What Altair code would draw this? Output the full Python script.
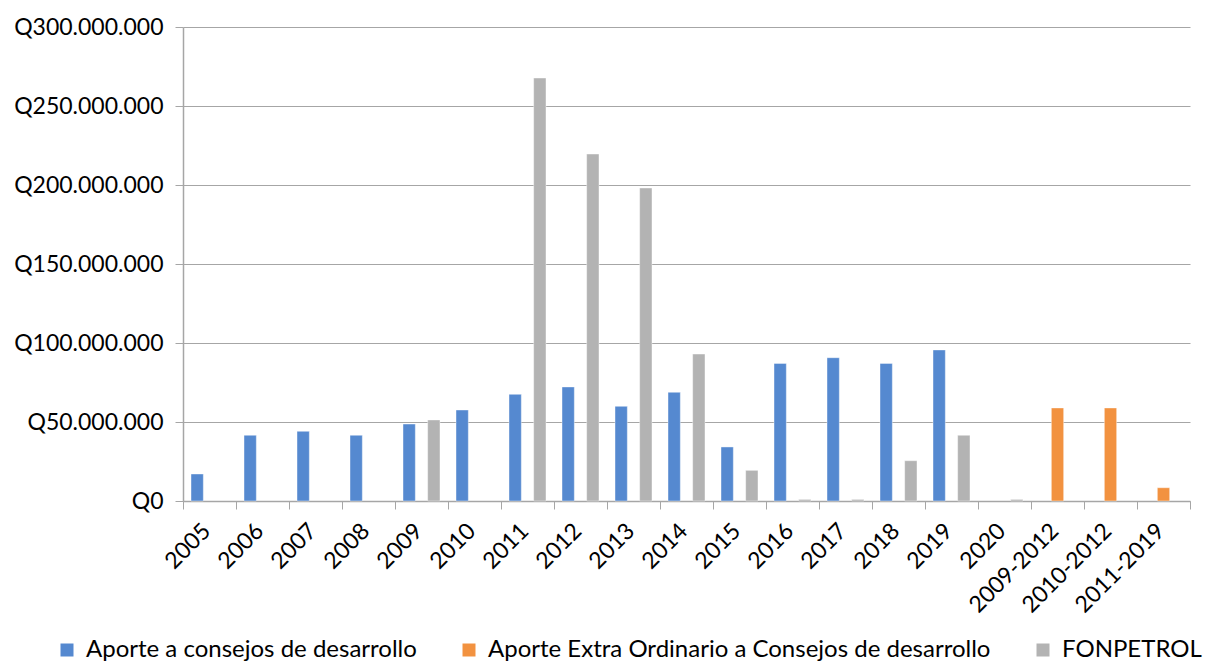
import altair as alt
import pandas as pd

categories = ["2005", "2006", "2007", "2008", "2009", "2010", "2011", "2012", "2013",
              "2014", "2015", "2016", "2017", "2018", "2019", "2020",
              "2009-2012", "2010-2012", "2011-2019"]
series_names = ["Aporte a consejos de desarrollo",
                "Aporte Extra Ordinario a Consejos de desarrollo",
                "FONPETROL"]
series_colors = ["#5589D0", "#F29240", "#B3B3B3"]

# values in millions of quetzales
aporte = [17.1, 41.6, 44.1, 41.6, 48.7, 57.6, 67.5, 72.2, 59.9, 68.8, 34.2, 87.1,
          90.7, 87.1, 95.6, None, None, None, None]
extra = [None, None, None, None, None, None, None, None, None, None, None, None,
         None, None, None, None, 58.9, 58.9, 8.4]
fonpetrol = [None, None, None, None, 51.3, None, 267.7, 219.6, 198.1, 93.0, 19.4, 1.0,
             1.0, 25.5, 41.6, 1.0, None, None, None]

y_ticks = [0, 50e6, 100e6, 150e6, 200e6, 250e6, 300e6]

rows = []
for name, vals in zip(series_names, [aporte, extra, fonpetrol]):
    for cat, v in zip(categories, vals):
        if v is not None:
            rows.append({"categoria": cat, "serie": name, "valor": v * 1e6})
df = pd.DataFrame(rows)

FONT = "Lato"

chart = alt.Chart(df).mark_bar(stroke="white", strokeWidth=0.6, strokeOpacity=0.7).encode(
    x=alt.X("categoria:N", sort=categories,
            scale=alt.Scale(domain=categories, paddingInner=0, paddingOuter=0),
            axis=alt.Axis(title=None, labelAngle=-45, labelAlign="right", labelBaseline="middle",
                          labelFontSize=23, labelFont=FONT, labelColor="#000000",
                          labelPadding=18, labelOffset=-3, tickBand="extent", ticks=True,
                          tickSize=8, tickColor="#A6A6A6", domainColor="#A6A6A6",
                          domainWidth=1.5, grid=False, labelOverlap=False)),
    xOffset=alt.XOffset("serie:N", sort=series_names,
                        scale=alt.Scale(domain=series_names, paddingInner=0, paddingOuter=0.65)),
    y=alt.Y("valor:Q",
            scale=alt.Scale(domain=[0, 300e6], nice=False),
            axis=alt.Axis(title=None, values=y_ticks,
                          labelExpr="'Q' + replace(replace(format(datum.value, ',d'), ',', '.'), ',', '.')",
                          labelFontSize=23, labelFont=FONT, labelColor="#000000",
                          labelPadding=12, tickSize=8, tickColor="#A6A6A6",
                          domainColor="#A6A6A6", domainWidth=1.5,
                          gridColor="#A6A6A6", gridWidth=1.2)),
    color=alt.Color("serie:N", sort=series_names,
                    scale=alt.Scale(domain=series_names, range=series_colors),
                    legend=alt.Legend(title=None, orient="none", legendX=-128, legendY=611,
                                      direction="horizontal", symbolType="square",
                                      symbolSize=169, symbolStrokeWidth=0,
                                      labelFontSize=24, labelFont=FONT, labelColor="#000000",
                                      labelOffset=7, columnPadding=40, labelLimit=700))
).properties(
    width=1007, height=474,
    autosize=alt.AutoSizeParams(type="none"),
    padding={"left": 175, "top": 19, "right": 20, "bottom": 160}
).configure_view(stroke=None)

chart.save("out.html", embed_options={"renderer": "svg", "actions": False})
